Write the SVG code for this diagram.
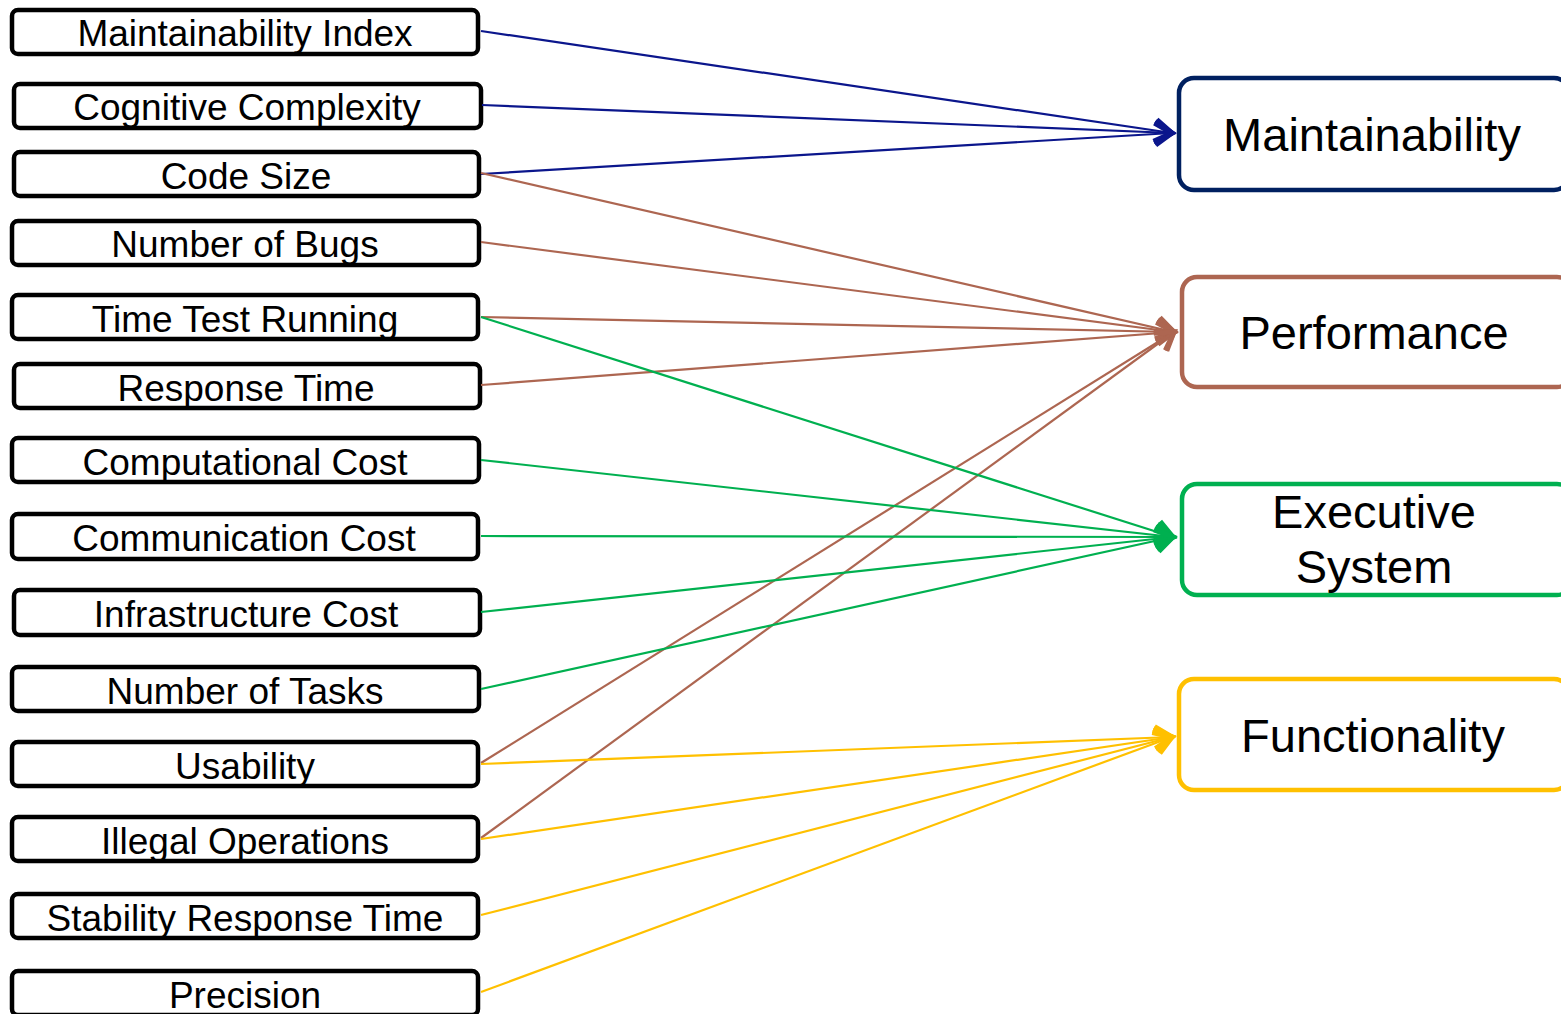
<svg xmlns="http://www.w3.org/2000/svg" width="1561" height="1014" viewBox="0 0 1561 1014">
  <style>
    .metric rect { fill: #ffffff; stroke: #000000; stroke-width: 4.5; }
    .metric text { font-family: "Liberation Sans", Arial, sans-serif; font-size: 37px; fill: #000000; text-anchor: middle; }
    .quality rect { fill: #ffffff; stroke-width: 4.5; }
    .quality text { font-family: "Liberation Sans", Arial, sans-serif; font-size: 47px; fill: #000000; text-anchor: middle; }
    .link { fill: none; stroke-width: 2.2; }
    .blue { stroke: #0B168C; marker-end: url(#arrow-blue); }
    .brown { stroke: #AD6651; marker-end: url(#arrow-brown); }
    .green { stroke: #00B050; marker-end: url(#arrow-green); }
    .yellow { stroke: #FFC000; marker-end: url(#arrow-yellow); }
    .head { fill: none; stroke-width: 5; }
  </style>
  <defs>
    <marker id="arrow-blue" viewBox="-22 -15 28 30" refX="0" refY="0" markerWidth="28" markerHeight="30" markerUnits="userSpaceOnUse" orient="auto" overflow="visible">
      <path class="head" d="M-17,-11 L0,0 L-17,11" stroke="#0B168C"/>
    </marker>
    <marker id="arrow-brown" viewBox="-22 -15 28 30" refX="0" refY="0" markerWidth="28" markerHeight="30" markerUnits="userSpaceOnUse" orient="auto" overflow="visible">
      <path class="head" d="M-17,-11 L0,0 L-17,11" stroke="#AD6651"/>
    </marker>
    <marker id="arrow-green" viewBox="-22 -15 28 30" refX="0" refY="0" markerWidth="28" markerHeight="30" markerUnits="userSpaceOnUse" orient="auto" overflow="visible">
      <path class="head" d="M-17,-11 L0,0 L-17,11" stroke="#00B050"/>
    </marker>
    <marker id="arrow-yellow" viewBox="-22 -15 28 30" refX="0" refY="0" markerWidth="28" markerHeight="30" markerUnits="userSpaceOnUse" orient="auto" overflow="visible">
      <path class="head" d="M-17,-11 L0,0 L-17,11" stroke="#FFC000"/>
    </marker>
  </defs>

  <rect x="0" y="0" width="1561" height="1014" fill="#ffffff"/>

  <!-- metric boxes (left column) -->
  <g id="maintainability-index" class="metric">
    <rect x="12" y="10" width="466" height="44" rx="6"/>
    <text x="245" y="46">Maintainability Index</text>
  </g>
  <g id="cognitive-complexity" class="metric">
    <rect x="14" y="84" width="467" height="44" rx="6"/>
    <text x="247" y="120">Cognitive Complexity</text>
  </g>
  <g id="code-size" class="metric">
    <rect x="14" y="152" width="465" height="44" rx="6"/>
    <text x="246" y="188.5">Code Size</text>
  </g>
  <g id="number-of-bugs" class="metric">
    <rect x="12" y="221" width="467" height="44" rx="6"/>
    <text x="245" y="257">Number of Bugs</text>
  </g>
  <g id="time-test-running" class="metric">
    <rect x="12" y="295" width="466" height="44" rx="6"/>
    <text x="245" y="331.5">Time Test Running</text>
  </g>
  <g id="response-time" class="metric">
    <rect x="14" y="364" width="466" height="44" rx="6"/>
    <text x="246" y="400.5">Response Time</text>
  </g>
  <g id="computational-cost" class="metric">
    <rect x="12" y="438" width="467" height="44" rx="6"/>
    <text x="245" y="474.5">Computational Cost</text>
  </g>
  <g id="communication-cost" class="metric">
    <rect x="12" y="514" width="466" height="45" rx="6"/>
    <text x="244" y="551">Communication Cost</text>
  </g>
  <g id="infrastructure-cost" class="metric">
    <rect x="14" y="590" width="466" height="45" rx="6"/>
    <text x="246" y="627">Infrastructure Cost</text>
  </g>
  <g id="number-of-tasks" class="metric">
    <rect x="12" y="667" width="467" height="44" rx="6"/>
    <text x="245" y="703.5">Number of Tasks</text>
  </g>
  <g id="usability" class="metric">
    <rect x="12" y="742" width="466" height="44" rx="6"/>
    <text x="245" y="778.5">Usability</text>
  </g>
  <g id="illegal-operations" class="metric">
    <rect x="12" y="817" width="466" height="44" rx="6"/>
    <text x="245" y="853.5">Illegal Operations</text>
  </g>
  <g id="stability-response-time" class="metric">
    <rect x="12" y="894" width="466" height="44" rx="6"/>
    <text x="245" y="930.5">Stability Response Time</text>
  </g>
  <g id="precision" class="metric">
    <rect x="12" y="971" width="466" height="44" rx="6"/>
    <text x="245" y="1007.5">Precision</text>
  </g>

  <!-- quality attribute boxes (right column) -->
  <g id="maintainability" class="quality">
    <rect x="1179" y="78" width="390" height="112" rx="15" stroke="#002060"/>
    <text x="1372" y="151">Maintainability</text>
  </g>
  <g id="performance" class="quality">
    <rect x="1182" y="277" width="390" height="110" rx="15" stroke="#AD6651"/>
    <text x="1374" y="349">Performance</text>
  </g>
  <g id="executive-system" class="quality">
    <rect x="1182" y="484" width="390" height="111" rx="15" stroke="#00B050"/>
    <text x="1374" y="528">Executive</text>
    <text x="1374" y="583">System</text>
  </g>
  <g id="functionality" class="quality">
    <rect x="1179" y="679" width="390" height="111" rx="15" stroke="#FFC000"/>
    <text x="1373" y="752">Functionality</text>
  </g>

  <!-- connectors -->
  <g id="connectors">
    <line class="link blue" x1="481" y1="31" x2="1172" y2="133"/>
    <line class="link blue" x1="482" y1="105" x2="1172" y2="133"/>
    <line class="link blue" x1="481" y1="174" x2="1172" y2="133"/>

    <line class="link brown" x1="481" y1="173" x2="1174" y2="332"/>
    <line class="link brown" x1="481" y1="242" x2="1174" y2="332"/>
    <line class="link brown" x1="481" y1="317" x2="1174" y2="332"/>
    <line class="link brown" x1="481" y1="385" x2="1174" y2="332"/>
    <line class="link brown" x1="481" y1="763" x2="1174" y2="332"/>
    <line class="link brown" x1="481" y1="838" x2="1174" y2="332"/>

    <line class="link green" x1="481" y1="317" x2="1173" y2="537"/>
    <line class="link green" x1="481" y1="460" x2="1173" y2="537"/>
    <line class="link green" x1="481" y1="536" x2="1173" y2="537"/>
    <line class="link green" x1="481" y1="612" x2="1173" y2="537"/>
    <line class="link green" x1="481" y1="689" x2="1173" y2="537"/>

    <line class="link yellow" x1="481" y1="764" x2="1172" y2="737"/>
    <line class="link yellow" x1="481" y1="839" x2="1172" y2="737"/>
    <line class="link yellow" x1="481" y1="915" x2="1172" y2="737"/>
    <line class="link yellow" x1="481" y1="992" x2="1172" y2="737"/>
  </g>
</svg>
